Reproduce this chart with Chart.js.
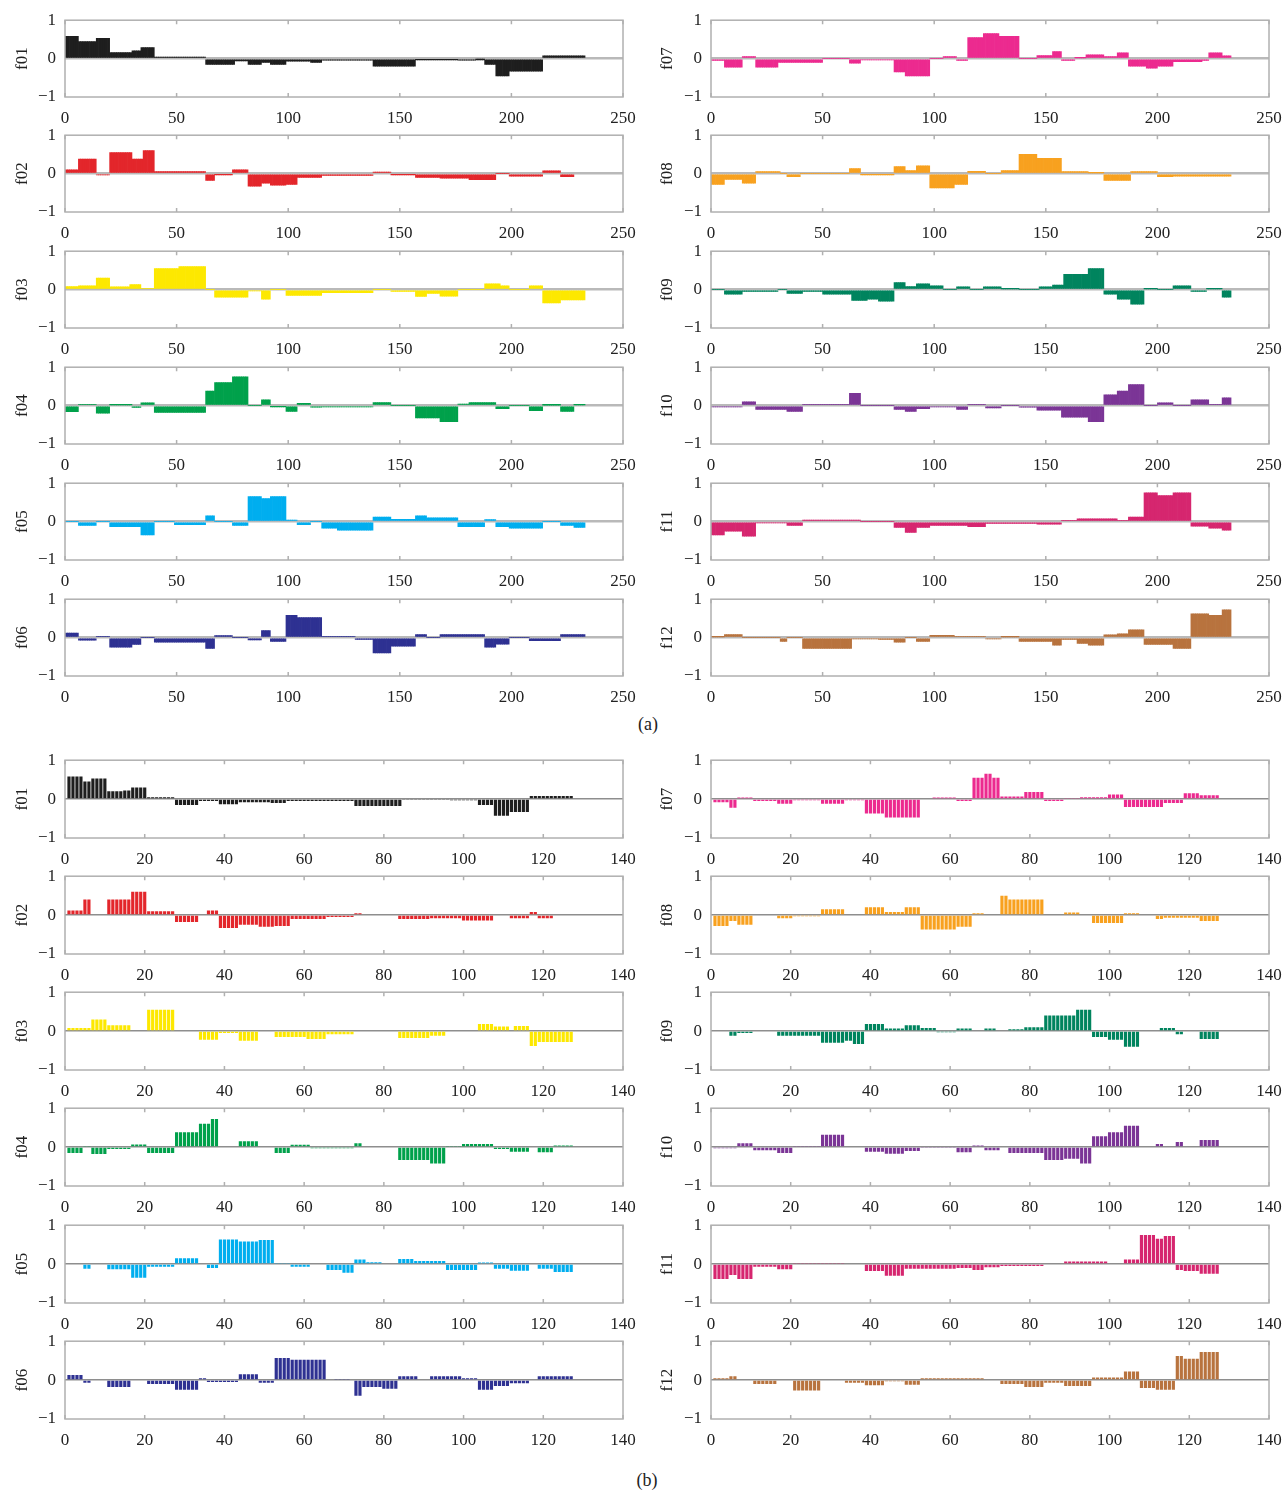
<!DOCTYPE html>
<html>
<head>
<meta charset="utf-8">
<script src="https://cdn.jsdelivr.net/npm/chart.js@4.4.1/dist/chart.umd.min.js"></script>
<style>
  body { margin: 0; background: #fff; }
  #page { position: relative; width: 1285px; height: 1492px; }
  canvas { position: absolute; }
  .cap { position: absolute; font: 18px "Liberation Serif", serif; color: #222; transform: translateX(-50%); }
</style>
</head>
<body>
<div id="page">
  <div class="cap" style="left:648px; top:714px">(a)</div>
  <div class="cap" style="left:647px; top:1470px">(b)</div>
</div>
<script>
// names of the twelve features
const names = ['f01','f02','f03','f04','f05','f06','f07','f08','f09','f10','f11','f12'];
const ticksA = [0, 50, 100, 150, 200, 250];
const ticksB = [0, 20, 40, 60, 80, 100, 120, 140];
const ticksY = [-1, 0, 1];

// each series is a list of runs: [last sample index, value]
// (a) 233 samples
const a_f01 = [[6,0.58],[14,0.44],[20,0.53],[30,0.16],[34,0.2],[40,0.29],[63,0.04],[76,-0.15],[82,-0.06],[88,-0.15],[92,-0.1],[99,-0.15],[110,-0.07],[115,-0.1],[138,-0.04],[157,-0.2],[162,-0.02],[176,-0.02],[184,-0.04],[188,-0.01],[193,-0.15],[199,-0.45],[214,-0.33],[233,0.07]];
const a_f02 = [[6,0.1],[14,0.38],[20,-0.03],[30,0.55],[35,0.38],[40,0.6],[63,0.05],[67,-0.18],[75,-0.02],[82,0.1],[88,-0.33],[92,-0.25],[99,-0.3],[104,-0.28],[115,-0.1],[138,-0.05],[146,0.04],[157,-0.02],[168,-0.1],[181,-0.12],[193,-0.16],[199,0],[214,-0.07],[222,0.07],[228,-0.08]];
const a_f03 = [[6,0.08],[14,0.1],[20,0.3],[29,0.07],[34,0.13],[40,0.03],[51,0.55],[63,0.6],[67,0],[82,-0.2],[88,-0.03],[92,-0.25],[99,0],[115,-0.15],[138,-0.08],[146,0],[157,-0.05],[162,-0.18],[168,-0.1],[176,-0.17],[188,0],[195,0.15],[199,0.1],[208,0],[214,0.1],[222,-0.35],[233,-0.27]];
const a_f04 = [[6,-0.16],[14,0.03],[20,-0.2],[30,0.02],[34,-0.05],[40,0.07],[63,-0.18],[67,0.38],[75,0.6],[82,0.75],[88,0],[92,0.15],[99,-0.02],[104,-0.15],[110,0.06],[115,-0.04],[138,-0.03],[146,0.08],[157,0],[168,-0.32],[176,-0.42],[181,0.04],[193,0.08],[199,-0.08],[208,0],[214,-0.13],[222,0.01],[228,-0.15],[233,0.02]];
const a_f05 = [[6,0],[14,-0.1],[20,0],[34,-0.13],[40,-0.35],[49,0],[63,-0.08],[67,0.15],[75,0],[82,-0.1],[88,0.65],[92,0.6],[99,0.65],[104,0.04],[110,-0.08],[115,0],[122,-0.17],[138,-0.22],[146,0.12],[157,0.06],[162,0.15],[176,0.1],[188,-0.13],[193,0.05],[199,-0.13],[214,-0.17],[222,0],[228,-0.1],[233,-0.15]];
const a_f06 = [[6,0.12],[14,-0.07],[20,0.03],[30,-0.25],[34,-0.18],[40,0],[63,-0.12],[67,-0.28],[75,0.05],[82,0],[88,-0.06],[92,0.18],[99,-0.1],[104,0.58],[115,0.52],[130,0.03],[138,-0.05],[146,-0.4],[157,-0.22],[162,0.08],[168,0],[188,0.08],[193,-0.25],[199,-0.17],[208,0],[222,-0.08],[233,0.08]];
const a_f07 = [[6,-0.05],[14,-0.22],[20,0.05],[30,-0.22],[50,-0.1],[62,0],[67,-0.12],[82,-0.03],[87,-0.35],[98,-0.45],[104,0],[110,0.05],[115,-0.05],[122,0.55],[129,0.65],[138,0.58],[146,0],[153,0.08],[157,0.18],[163,-0.05],[168,0.02],[176,0.1],[182,0.05],[187,0.15],[195,-0.2],[200,-0.25],[207,-0.2],[220,-0.08],[223,-0.05],[229,0.15],[233,0.07]];
const a_f08 = [[6,-0.28],[14,-0.15],[20,-0.25],[31,0.05],[34,0],[40,-0.08],[62,0],[67,0.13],[82,-0.02],[87,0.18],[92,0.08],[98,0.2],[109,-0.37],[115,-0.28],[123,0.06],[130,0],[138,0.08],[146,0.5],[157,0.4],[169,0.05],[176,0.02],[188,-0.18],[200,0.05],[207,-0.08],[233,-0.07]];
const a_f09 = [[6,0],[14,-0.12],[30,-0.05],[34,0],[41,-0.1],[50,-0.05],[63,-0.12],[70,-0.28],[75,-0.25],[82,-0.3],[87,0.18],[92,0.08],[98,0.15],[104,0.1],[110,0],[116,0.07],[122,0],[130,0.07],[138,0.02],[147,0],[153,0.07],[158,0.12],[169,0.4],[176,0.55],[182,-0.12],[188,-0.25],[194,-0.38],[200,0.02],[207,0],[215,0.1],[222,-0.05],[229,0.02],[233,-0.2]];
const a_f10 = [[14,-0.03],[20,0.1],[34,-0.1],[41,-0.15],[62,0.03],[67,0.32],[82,0],[87,-0.1],[92,-0.15],[98,-0.08],[110,-0.03],[115,-0.1],[123,0.03],[130,-0.06],[138,0],[146,-0.04],[157,-0.12],[169,-0.3],[176,-0.42],[182,0.28],[187,0.38],[194,0.55],[200,0],[207,0.07],[215,0],[223,0.15],[229,0.03],[233,0.2]];
const a_f11 = [[6,-0.35],[14,-0.25],[20,-0.38],[34,-0.03],[41,-0.1],[67,0.04],[82,0],[87,-0.15],[92,-0.28],[98,-0.15],[115,-0.1],[123,-0.13],[146,-0.05],[157,-0.07],[164,0.03],[182,0.07],[187,0.03],[194,0.12],[200,0.75],[207,0.68],[215,0.75],[223,-0.12],[229,-0.17],[233,-0.22]];
const a_f12 = [[6,0.02],[14,0.08],[31,0],[34,-0.1],[41,0],[63,-0.28],[75,-0.03],[82,-0.05],[87,-0.12],[92,0],[98,-0.1],[109,0.06],[123,0.03],[130,-0.03],[138,0.02],[153,-0.1],[157,-0.2],[164,-0.05],[169,-0.15],[176,-0.2],[182,0.07],[187,0.1],[194,0.2],[207,-0.18],[215,-0.28],[223,0.62],[229,0.58],[233,0.72]];

// (b) 127 samples
const b_f01 = [[4,0.58],[6,0.45],[10,0.53],[14,0.2],[16,0.22],[20,0.3],[27,0.05],[33,-0.15],[38,-0.05],[43,-0.13],[51,-0.08],[55,-0.1],[72,-0.05],[84,-0.18],[96,-0.01],[103,-0.03],[107,-0.15],[111,-0.43],[116,-0.33],[127,0.08]];
const b_f02 = [[4,0.12],[6,0.4],[10,0],[16,0.4],[20,0.6],[27,0.1],[33,-0.18],[35,0],[38,0.12],[43,-0.33],[48,-0.25],[52,-0.3],[56,-0.28],[65,-0.1],[72,-0.05],[74,0.05],[83,0],[91,-0.1],[99,-0.08],[107,-0.14],[111,0],[116,-0.08],[118,0.08],[122,-0.08]];
const b_f03 = [[6,0.08],[10,0.3],[16,0.15],[20,0],[27,0.55],[33,0],[38,-0.22],[43,-0.05],[48,-0.25],[52,0],[60,-0.15],[65,-0.2],[72,-0.08],[83,0],[91,-0.18],[95,-0.12],[103,0],[107,0.18],[111,0.12],[112,0],[116,0.13],[118,-0.38],[127,-0.28]];
const b_f04 = [[4,-0.15],[6,0.03],[10,-0.18],[16,-0.05],[20,0.07],[27,-0.15],[33,0.38],[36,0.6],[38,0.72],[43,0],[48,0.15],[52,0],[56,-0.15],[61,0.06],[72,-0.03],[74,0.1],[78,0],[83,0.02],[91,-0.33],[95,-0.42],[99,0.03],[107,0.08],[111,-0.05],[116,-0.12],[118,0],[122,-0.13],[127,0.04]];
const b_f05 = [[4,0],[6,-0.12],[10,0],[16,-0.13],[20,-0.35],[27,-0.07],[33,0.15],[35,0],[38,-0.1],[43,0.63],[48,0.58],[52,0.62],[56,0.03],[61,-0.07],[65,0],[69,-0.15],[72,-0.22],[75,0.12],[79,0.05],[83,0.02],[87,0.13],[95,0.08],[103,-0.15],[107,0.04],[111,-0.12],[116,-0.17],[118,0],[122,-0.12],[127,-0.2]];
const b_f06 = [[4,0.13],[6,-0.07],[10,0.02],[16,-0.18],[20,0],[27,-0.1],[33,-0.25],[35,0.05],[43,-0.05],[48,0.15],[52,-0.07],[56,0.57],[65,0.52],[67,0],[71,0.03],[72,0],[74,-0.4],[79,-0.18],[83,-0.22],[88,0.1],[91,0],[99,0.1],[103,0.05],[107,-0.25],[111,-0.15],[116,-0.08],[118,0.02],[127,0.1]];
const b_f07 = [[4,-0.08],[6,-0.22],[10,0.04],[16,-0.05],[20,-0.12],[27,-0.03],[33,-0.12],[38,-0.03],[43,-0.37],[52,-0.47],[55,0],[61,0.04],[65,-0.05],[68,0.55],[70,0.65],[72,0.55],[78,0.07],[83,0.18],[88,-0.05],[92,0.03],[99,0.05],[103,0.12],[113,-0.2],[118,-0.1],[122,0.15],[127,0.1]];
const b_f08 = [[4,-0.28],[6,-0.15],[10,-0.25],[16,0],[20,-0.08],[27,-0.03],[33,0.15],[38,0],[43,0.2],[48,0.08],[52,0.2],[61,-0.37],[65,-0.3],[68,0.05],[72,0],[74,0.5],[83,0.4],[88,0],[92,0.07],[95,0],[103,-0.2],[107,0.05],[111,0],[113,-0.1],[122,-0.07],[127,-0.15]];
const b_f09 = [[4,0],[6,-0.12],[10,-0.05],[16,0],[27,-0.12],[33,-0.3],[35,-0.25],[38,-0.33],[43,0.18],[48,0.07],[52,0.15],[56,0.08],[61,-0.03],[65,0.07],[68,0],[71,0.07],[74,0],[78,0.05],[83,0.1],[91,0.4],[95,0.55],[99,-0.15],[103,-0.22],[107,-0.4],[111,0.02],[112,0],[116,0.08],[118,-0.08],[122,0.02],[127,-0.2]];
const b_f10 = [[6,-0.03],[10,0.1],[16,-0.08],[20,-0.15],[27,0.03],[33,0.32],[38,0],[43,-0.12],[48,-0.17],[52,-0.1],[61,-0.02],[65,-0.13],[68,0.04],[72,-0.08],[74,0],[83,-0.15],[88,-0.33],[92,-0.3],[95,-0.42],[99,0.28],[103,0.38],[107,0.55],[111,0],[113,0.08],[116,0],[118,0.13],[122,0.02],[127,0.18]];
const b_f11 = [[4,-0.38],[6,-0.28],[10,-0.38],[16,-0.07],[20,-0.13],[33,0.03],[38,0],[43,-0.18],[48,-0.3],[61,-0.12],[65,-0.1],[68,-0.15],[72,-0.08],[83,-0.05],[88,0.02],[99,0.07],[103,0.02],[107,0.12],[111,0.75],[113,0.65],[116,0.72],[118,-0.15],[122,-0.18],[127,-0.25]];
const b_f12 = [[4,0.05],[6,0.1],[10,0],[16,-0.1],[20,0],[27,-0.27],[33,0],[38,-0.07],[43,-0.13],[48,-0.03],[52,-0.12],[68,0.05],[72,0],[78,-0.1],[83,-0.18],[88,-0.07],[95,-0.15],[103,0.07],[107,0.22],[111,-0.2],[116,-0.25],[118,0.62],[122,0.55],[127,0.72]];

const seriesA = [a_f01, a_f02, a_f03, a_f04, a_f05, a_f06, a_f07, a_f08, a_f09, a_f10, a_f11, a_f12];
const seriesB = [b_f01, b_f02, b_f03, b_f04, b_f05, b_f06, b_f07, b_f08, b_f09, b_f10, b_f11, b_f12];

const colors = ['#1e1e1e','#e3262b','#fde800','#00a14b','#00aeef','#2e3192',
                '#ec2a8f','#f8a11f','#00845e','#7b3596','#d6266f','#b8733e'];

// panel geometry
const SERIF = '"Liberation Serif", "DejaVu Serif", serif';
const groups = [
  { series: seriesA, ticks: ticksA, max: 250, shift: 0.5, cat: 1.0,
    tops: [20, 135.5, 251, 367, 483, 599], h: 77, zero: '#b9b9b9', zeroW: 2.5 },
  { series: seriesB, ticks: ticksB, max: 140, shift: 0, cat: 0.8,
    tops: [760, 876, 992, 1108, 1225, 1341], h: 78, zero: '#8e8e8e', zeroW: 1.5 }
];
const cols = [
  { left: 0, width: 645, axisW: 65, padR: 22 },
  { left: 645, width: 640, axisW: 66, padR: 16 }
];
const XAXIS_H = 34;

// run list -> bar points
function expandRuns(runs, shift) {
  const pts = [];
  let i = 1;
  runs.forEach(([end, v]) => {
    for (; i <= end; i++) pts.push({ x: i - shift, y: v });
  });
  return pts;
}

// box round the plot with inward ticks
const framePlugin = {
  id: 'frame',
  afterDraw(chart) {
    const { ctx, chartArea: a, scales: { x } } = chart;
    ctx.save();
    ctx.strokeStyle = '#b0b0b0';
    ctx.lineWidth = 1.5;
    ctx.strokeRect(a.left, a.top, a.width, a.height);
    ctx.beginPath();
    x.ticks.forEach(t => {
      const px = x.getPixelForValue(t.value);
      ctx.moveTo(px, a.top); ctx.lineTo(px, a.top + 4);
      ctx.moveTo(px, a.bottom); ctx.lineTo(px, a.bottom - 4);
    });
    ctx.stroke();
    ctx.restore();
  }
};

function panelConfig(g, col, runs, k) {
  return {
    type: 'bar',
    data: {
      datasets: [{
        data: expandRuns(runs, g.shift),
        backgroundColor: colors[k],
        borderWidth: 0,
        barPercentage: 1,
        categoryPercentage: g.cat
      }]
    },
    options: {
      responsive: false,
      animation: false,
      events: [],
      layout: { padding: { top: 0, right: col.padR, left: 0, bottom: 0 } },
      plugins: { legend: { display: false }, tooltip: { enabled: false } },
      scales: {
        x: {
          type: 'linear', min: 0, max: g.max, offset: false,
          afterBuildTicks: s => { s.ticks = g.ticks.map(v => ({ value: v })); },
          afterFit: s => { s.height = XAXIS_H; },
          ticks: { font: { family: SERIF, size: 17 }, color: '#222', padding: 3, maxRotation: 0, autoSkip: false },
          grid: { display: false, offset: false },
          border: { display: false }
        },
        y: {
          min: -1, max: 1,
          afterBuildTicks: s => { s.ticks = ticksY.map(v => ({ value: v })); },
          afterFit: s => { s.width = col.axisW; },
          ticks: {
            font: { family: SERIF, size: 17 }, color: '#222', padding: 9,
            callback: v => v < 0 ? '\u2212' + Math.abs(v) : String(v)
          },
          grid: {
            drawTicks: false,
            color: c => c.tick && c.tick.value === 0 ? g.zero : 'rgba(0,0,0,0)',
            lineWidth: c => c.tick && c.tick.value === 0 ? g.zeroW : 0
          },
          border: { display: false },
          title: { display: true, text: names[k], font: { family: SERIF, size: 17 }, color: '#222', padding: { top: 12, bottom: 0 } }
        }
      }
    },
    plugins: [framePlugin]
  };
}

const page = document.getElementById('page');

groups.forEach(g => {
  g.series.forEach((runs, k) => {
    const col = cols[Math.floor(k / 6)];
    const row = k % 6;
    const cv = document.createElement('canvas');
    cv.width = col.width;
    cv.height = g.h + XAXIS_H + 20;
    cv.style.left = col.left + 'px';
    page.appendChild(cv);

    let chart = new Chart(cv, panelConfig(g, col, runs, k));
    // the layout eats some room for the labels: grow the canvas so the plot keeps its height
    const diff = g.h - (chart.chartArea.bottom - chart.chartArea.top);
    if (Math.abs(diff) > 0.5) {
      chart.destroy();
      cv.width = col.width;
      cv.height = Math.round(g.h + XAXIS_H + 20 + diff);
      chart = new Chart(cv, panelConfig(g, col, runs, k));
    }
    cv.style.top = (g.tops[row] - chart.chartArea.top) + 'px';
  });
});
</script>
</body>
</html>
